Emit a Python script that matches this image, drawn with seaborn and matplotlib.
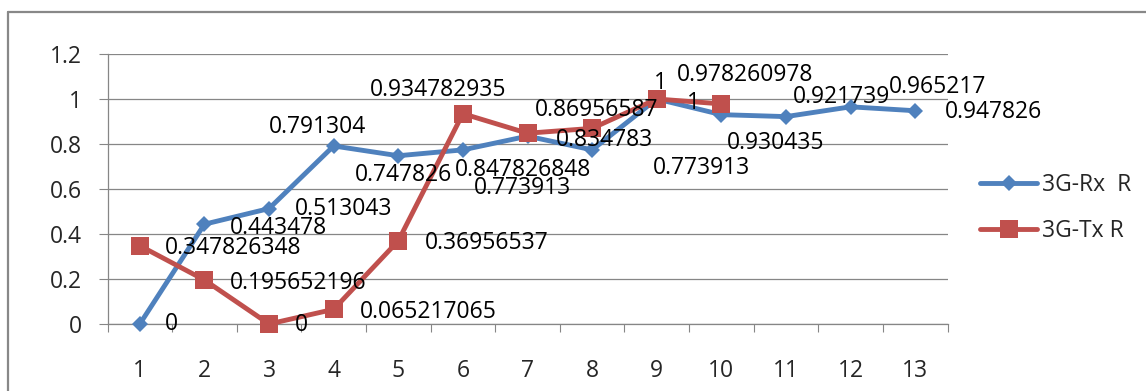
import numpy as np
import pandas as pd
import matplotlib
matplotlib.use("Agg")
import matplotlib.pyplot as plt
from matplotlib.lines import Line2D
import seaborn as sns

# ---- data ----
rx_x = [1, 2, 3, 4, 5, 6, 7, 8, 9, 10, 11, 12, 13]
rx_y = [0, 0.443478, 0.513043, 0.791304, 0.747826, 0.773913, 0.834783,
        0.773913, 1, 0.930435, 0.921739, 0.965217, 0.947826]
tx_x = [1, 2, 3, 4, 5, 6, 7, 8, 9, 10]
tx_y = [0.347826348, 0.195652196, 0, 0.065217065, 0.36956537, 0.934782935,
        0.847826848, 0.86956587, 1, 0.978260978]
series_names = ["3G-Rx  R", "3G-Tx R"]
y_ticks = [0, 0.2, 0.4, 0.6, 0.8, 1.0, 1.2]
y_tick_labels = ["0", "0.2", "0.4", "0.6", "0.8", "1", "1.2"]
x_tick_labels = [str(i) for i in range(1, 14)]

sns.set_style("white")
plt.rcParams["font.family"] = ["Open Sans", "DejaVu Sans"]

BLUE = "#4F81BD"
RED = "#C0504D"
GRID = "#868686"
FS = 16.5

W, H = 1146, 391
fig = plt.figure(figsize=(W / 100, H / 100), dpi=100)
ax_left, ax_right = 107.5, 947.5
ax_top, ax_bot = 54, 324
ax = fig.add_axes([ax_left / W, (H - ax_bot) / H,
                   (ax_right - ax_left) / W, (ax_bot - ax_top) / H])

sns.lineplot(x=rx_x, y=rx_y, ax=ax, color=BLUE, linewidth=3.5, marker="D",
             markersize=8.5, markeredgewidth=0, zorder=3, clip_on=False)
sns.lineplot(x=tx_x, y=tx_y, ax=ax, color=RED, linewidth=3.5, marker="s",
             markersize=13, markeredgewidth=0, zorder=4, clip_on=False)

ax.set_xlim(0.5, 13.5)
ax.set_ylim(0, 1.2)
ax.set_yticks(y_ticks)
ax.set_yticklabels(y_tick_labels, fontsize=FS)
ax.set_xticks(range(1, 14))
ax.set_xticklabels(x_tick_labels, fontsize=FS)
ax.set_xticks(np.arange(0.5, 14.0, 1.0), minor=True)
ax.tick_params(axis="x", which="major", length=0, pad=25.5)
ax.tick_params(axis="x", which="minor", length=6, width=0.8, color=GRID,
               direction="out", bottom=True)
ax.tick_params(axis="y", which="major", length=6.5, width=0.8, color=GRID,
               direction="out", pad=12, left=True)
ax.grid(axis="y", color=GRID, linewidth=0.9)
ax.grid(axis="x", visible=False)
ax.set_axisbelow(True)
for s in ["top", "right"]:
    ax.spines[s].set_visible(False)
for s in ["left", "bottom"]:
    ax.spines[s].set_color(GRID)
    ax.spines[s].set_linewidth(0.9)
ax.set_xlabel("")
ax.set_ylabel("")

# data labels (pixel offsets: left edge dx, vertical centre dy)
rx_off = [(25, 0), (25, -4), (26, 0), (-65, 19), (-43, -19), (11, -38),
          (28, -4), (61, -18), (30, -4), (6, -28), (7, 20), (38, 20), (30, -1)]
tx_off = [(25, -2), (25, -3), (26, -1), (26, -3), (27, -2), (-93, 24),
          (-73, -37), (-57, 18), (-3, 16), (-44, 29)]
for xs, ys, offs in [(rx_x, rx_y, rx_off), (tx_x, tx_y, tx_off)]:
    for x, y, (dx, dy) in zip(xs, ys, offs):
        ax.annotate(format(y, ".10g"), xy=(x, y), xytext=(dx, dy),
                    textcoords="offset pixels", ha="left", va="center",
                    fontsize=FS, color="black", zorder=10,
                    annotation_clip=False)

# legend
handles = [Line2D([], [], color=BLUE, lw=3.5, marker="D", markersize=8.5,
                  markeredgewidth=0),
           Line2D([], [], color=RED, lw=3.5, marker="s", markersize=13,
                  markeredgewidth=0)]
fig.legend(handles, series_names, loc="center left",
           bbox_to_anchor=(980 / W, (H - 208) / H), frameon=False,
           fontsize=FS, handlelength=2.5, handletextpad=0.2,
           labelspacing=1.0, borderaxespad=0, borderpad=0)

# outer chart-area border
fig.add_artist(Line2D([7.5 / W, 1.0], [(H - 12) / H, (H - 12) / H],
                      color="#888888", lw=1.6, transform=fig.transFigure))
fig.add_artist(Line2D([7.5 / W, 7.5 / W], [0, (H - 12) / H],
                      color="#888888", lw=1.6, transform=fig.transFigure))

fig.savefig("out.png", dpi=100)
